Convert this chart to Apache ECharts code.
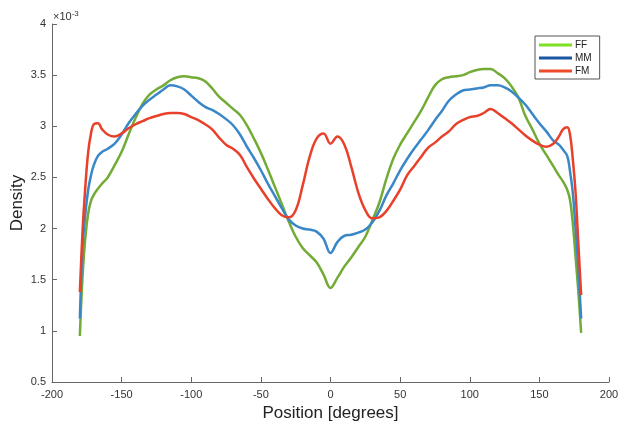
<!DOCTYPE html>
<html>
<head>
<meta charset="utf-8">
<script src="https://cdn.jsdelivr.net/npm/echarts@6/dist/echarts.min.js"></script>
<style>
  html, body { margin: 0; padding: 0; background: #fff; }
  #chart { width: 621px; height: 427px; }
</style>
</head>
<body>
<div id="chart"></div>
<script>
// position in degrees
var positions = [-180, -178, -176, -174, -172, -170, -167, -164, -160, -155, -150, -145, -140, -135, -130, -125, -120, -115, -110, -105, -100, -95, -90, -85, -80, -75, -70, -65, -60, -55, -50, -45, -40, -35, -30, -25, -20, -15, -10, -5, 0, 5, 10, 15, 20, 25, 30, 35, 40, 45, 50, 55, 60, 65, 70, 75, 80, 85, 90, 95, 100, 105, 110, 115, 120, 125, 130, 135, 140, 145, 150, 155, 160, 164, 167, 170, 172, 174, 176, 178, 180];

// density, x10^-3
var ff = [0.95, 1.55, 1.92, 2.15, 2.27, 2.33, 2.39, 2.44, 2.50, 2.62, 2.75, 2.92, 3.08, 3.22, 3.31, 3.36, 3.40, 3.45, 3.48, 3.49, 3.48, 3.47, 3.44, 3.37, 3.29, 3.23, 3.17, 3.11, 3.01, 2.88, 2.74, 2.58, 2.41, 2.24, 2.07, 1.92, 1.81, 1.74, 1.67, 1.55, 1.42, 1.52, 1.63, 1.72, 1.82, 1.92, 2.08, 2.25, 2.48, 2.68, 2.82, 2.93, 3.04, 3.15, 3.28, 3.40, 3.46, 3.48, 3.49, 3.50, 3.53, 3.55, 3.56, 3.56, 3.52, 3.47, 3.39, 3.28, 3.10, 2.97, 2.83, 2.72, 2.61, 2.52, 2.46, 2.38, 2.28, 2.05, 1.72, 1.38, 0.98];
var mm = [1.12, 1.83, 2.15, 2.38, 2.52, 2.62, 2.71, 2.75, 2.78, 2.83, 2.92, 3.03, 3.12, 3.20, 3.26, 3.31, 3.36, 3.40, 3.39, 3.36, 3.30, 3.24, 3.19, 3.16, 3.12, 3.07, 3.01, 2.92, 2.80, 2.69, 2.57, 2.44, 2.32, 2.20, 2.09, 2.03, 2.00, 1.99, 1.97, 1.90, 1.76, 1.87, 1.93, 1.94, 1.96, 1.99, 2.06, 2.17, 2.32, 2.44, 2.57, 2.68, 2.78, 2.87, 2.96, 3.06, 3.15, 3.25, 3.31, 3.35, 3.36, 3.37, 3.38, 3.40, 3.40, 3.38, 3.34, 3.28, 3.21, 3.12, 3.03, 2.95, 2.86, 2.82, 2.77, 2.71, 2.56, 2.35, 2.00, 1.60, 1.12];
var fm = [1.38, 1.99, 2.42, 2.75, 2.93, 3.02, 3.03, 2.97, 2.92, 2.90, 2.93, 2.98, 3.02, 3.05, 3.08, 3.10, 3.12, 3.13, 3.13, 3.12, 3.09, 3.06, 3.02, 2.97, 2.89, 2.82, 2.78, 2.72, 2.60, 2.49, 2.39, 2.29, 2.20, 2.13, 2.11, 2.18, 2.42, 2.70, 2.88, 2.93, 2.83, 2.90, 2.82, 2.60, 2.35, 2.18, 2.10, 2.11, 2.17, 2.27, 2.38, 2.52, 2.61, 2.70, 2.79, 2.84, 2.90, 2.95, 3.02, 3.06, 3.09, 3.10, 3.13, 3.17, 3.13, 3.08, 3.03, 2.97, 2.91, 2.86, 2.82, 2.80, 2.83, 2.90, 2.97, 2.99, 2.92, 2.68, 2.35, 1.85, 1.35];

var names = ['FF', 'MM', 'FM'];
var lineColors = ['#72ab36', '#3a87c8', '#e8402a'];
var legendColors = ['#7ee021', '#1b56a0', '#ee4b2b'];

function pairs(ys) {
  return positions.map(function (x, i) { return [x, ys[i]]; });
}

var myChart = echarts.init(document.getElementById('chart'));

var option = {
  animation: false,
  textStyle: { fontFamily: 'Liberation Sans' },
  grid: { left: 52, right: 12, top: 24, bottom: 45, outerBoundsMode: 'none' },
  graphic: [{
    type: 'text',
    left: 53,
    top: 10,
    style: {
      text: '×10{s|-3}',
      fill: '#333',
      font: '11px Liberation Sans',
      rich: { s: { fontSize: 8, verticalAlign: 'top', padding: [0, 0, 6, 0] } }
    }
  }],
  legend: {
    orient: 'vertical',
    left: 535,
    top: 36,
    padding: [4, 8, 3, 4],
    itemGap: 3,
    itemWidth: 33,
    itemHeight: 3,
    icon: 'rect',
    borderColor: '#555',
    borderWidth: 1,
    backgroundColor: '#fff',
    textStyle: { fontSize: 10, color: '#222', padding: [0, 0, 0, -2] },
    data: names.map(function (n, i) {
      return { name: n, itemStyle: { color: legendColors[i] } };
    })
  },
  xAxis: {
    type: 'value',
    min: -200,
    max: 200,
    interval: 50,
    name: 'Position [degrees]',
    nameLocation: 'middle',
    nameGap: 23,
    nameTextStyle: { fontSize: 17, color: '#222' },
    axisLine: { onZero: false, lineStyle: { color: '#666' } },
    axisTick: { inside: true, length: 5, lineStyle: { color: '#666' } },
    axisLabel: { fontSize: 11, color: '#333', margin: 7 },
    splitLine: { show: false }
  },
  yAxis: {
    type: 'value',
    min: 0.5,
    max: 4,
    interval: 0.5,
    name: 'Density',
    nameLocation: 'middle',
    nameGap: 26,
    nameMoveOverlap: false,
    nameTextStyle: { fontSize: 17, color: '#222' },
    axisLine: { show: true, onZero: false, lineStyle: { color: '#666' } },
    axisTick: { show: true, inside: true, length: 5, lineStyle: { color: '#666' } },
    axisLabel: { fontSize: 11, color: '#333', margin: 6 },
    splitLine: { show: false }
  },
  series: names.map(function (n, i) {
    return {
      name: n,
      type: 'line',
      data: pairs([ff, mm, fm][i]),
      smooth: 0.4,
      showSymbol: false,
      color: lineColors[i],
      lineStyle: { width: 2.5, color: lineColors[i] }
    };
  })
};

myChart.setOption(option);
</script>
</body>
</html>
